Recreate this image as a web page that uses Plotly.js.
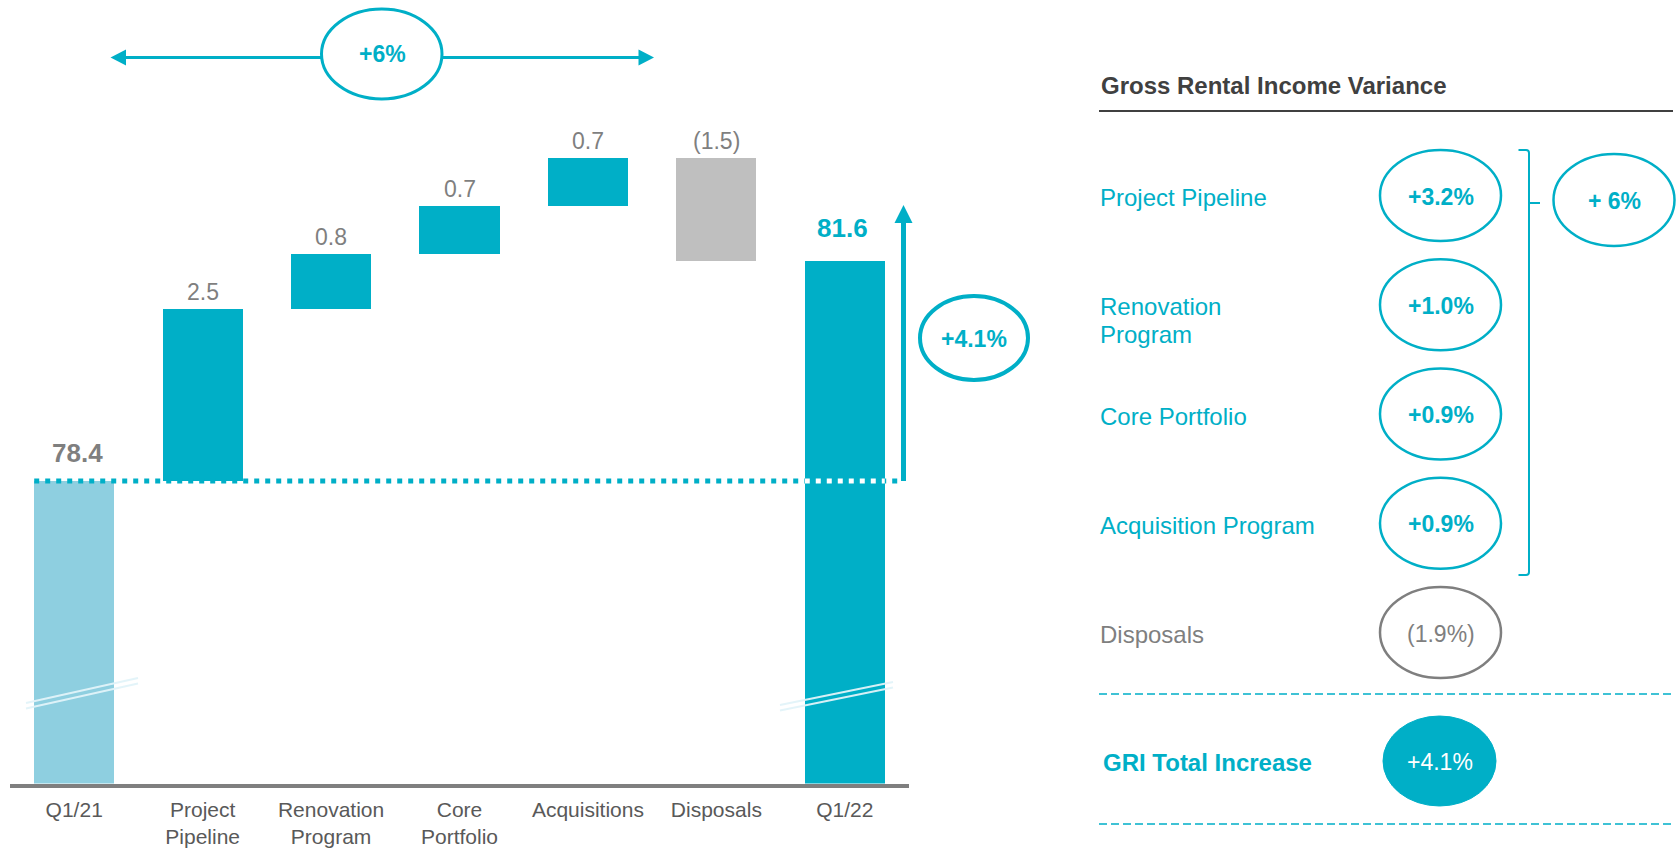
<!DOCTYPE html>
<html>
<head>
<meta charset="utf-8">
<script src="https://cdn.plot.ly/plotly-3.0.1.min.js"></script>
<style>html,body{margin:0;padding:0;background:#fff;}#chart{width:1679px;height:851px;}</style>
</head>
<body>
<div id="chart"></div>
<script>
// ---------- DATA ----------
const categories = ['Q1/21', 'Project<br>Pipeline', 'Renovation<br>Program', 'Core<br>Portfolio', 'Acquisitions', 'Disposals', 'Q1/22'];
const startValue = 78.4;
const changes = [2.5, 0.8, 0.7, 0.7, -1.5];
const endValue = 81.6;
const valueLabels = ['78.4', '2.5', '0.8', '0.7', '0.7', '(1.5)', '81.6'];
const topBadge = '+6%';
const arrowBadge = '+4.1%';
const panelTitle = 'Gross Rental Income Variance';
const panelLabels = ['Project Pipeline', 'Renovation<br>Program', 'Core Portfolio', 'Acquisition Program', 'Disposals'];
const panelValues = ['+3.2%', '+1.0%', '+0.9%', '+0.9%', '(1.9%)'];
const groupValue = '+ 6%';
const totalLabel = 'GRI Total Increase';
const totalValue = '+4.1%';

// ---------- STYLE ----------
const W = 1679, H = 851;
const TEAL = '#00AFC7', LIGHT = '#8ECFE0', GREY = '#BFBFBF', TXTGREY = '#7F7F7F', DARK = '#404040';
const FONT = 'Liberation Sans, Arial, Helvetica, sans-serif';
const yMin = 74.0;
const pxPerUnit = 68.75;
const plotBottomPx = 783.5;
const yMax = yMin + plotBottomPx / pxPerUnit;
const barW = 0.623;

// ---------- WATERFALL GEOMETRY (from data) ----------
const bases = [], heights = [], colors = [];
bases.push(yMin); heights.push(startValue - yMin); colors.push(LIGHT);
let run = startValue;
changes.forEach(c => {
  bases.push(Math.min(run, run + c));
  heights.push(Math.abs(c));
  colors.push(c >= 0 ? TEAL : GREY);
  run += c;
});
bases.push(yMin); heights.push(endValue - yMin); colors.push(TEAL);
const xs = categories.map((_, i) => i);

const bars = {
  type: 'bar', x: xs, y: heights, base: bases, width: barW,
  marker: {color: colors, line: {width: 0}}, hoverinfo: 'skip', showlegend: false
};
const overlay = {type: 'scatter', x: [], y: [], xaxis: 'x2', yaxis: 'y2', hoverinfo: 'skip', showlegend: false};

const annotations = [];
const shapes = [];

// value labels
xs.forEach(i => {
  const top = bases[i] + heights[i];
  const isEnd = (i === 0 || i === xs.length - 1);
  annotations.push({
    xref: 'x', yref: 'y', x: i, y: top, text: valueLabels[i], showarrow: false,
    xanchor: 'center', yanchor: 'middle',
    xshift: i === 0 ? 3 : (i === xs.length - 1 ? -2 : 0),
    yshift: i === 0 ? 28 : (i === xs.length - 1 ? 33 : 17),
    font: {family: FONT, size: isEnd ? 26 : 23, color: i === xs.length - 1 ? TEAL : TXTGREY, weight: isEnd ? 'bold' : 'normal'}
  });
});

// dotted baseline at start value
shapes.push({type: 'line', xref: 'x', yref: 'y', x0: -barW / 2, x1: 6.453, y0: startValue, y1: startValue,
  line: {color: TEAL, width: 5, dash: '5px,6px'}});
shapes.push({type: 'line', xref: 'x', yref: 'y', x0: 6 - barW / 2, x1: 6 + barW / 2, y0: startValue, y1: startValue,
  line: {color: '#ffffff', width: 5, dash: '5px,6px'}});

// axis break marks
function brk(xa, ya, xb, yb) {
  [0, 5.5].forEach(d => shapes.push({type: 'line', xref: 'x2', yref: 'y2', x0: xa, y0: ya + d, x1: xb, y1: yb + d,
    line: {color: 'rgba(225,243,249,0.95)', width: 2}}));
}
brk(26, 703, 138, 678);
brk(780, 705, 893, 682);

// vertical arrow
shapes.push({type: 'line', xref: 'x2', yref: 'y2', x0: 903.5, x1: 903.5, y0: 481, y1: 220, line: {color: TEAL, width: 5}});
shapes.push({type: 'path', xref: 'x2', yref: 'y2', path: 'M 894.5,223 L 912.5,223 L 903.5,205 Z', fillcolor: TEAL, line: {width: 0}});
// +4.1% ellipse
shapes.push({type: 'circle', xref: 'x2', yref: 'y2', x0: 920, x1: 1028, y0: 296, y1: 380, line: {color: TEAL, width: 4}, fillcolor: 'rgba(0,0,0,0)'});
annotations.push({xref: 'x2', yref: 'y2', x: 974, y: 339, text: arrowBadge, showarrow: false,
  font: {family: FONT, size: 23, color: TEAL, weight: 'bold'}});

// top double arrow with +6%
shapes.push({type: 'line', xref: 'x2', yref: 'y2', x0: 122, x1: 642, y0: 57.5, y1: 57.5, line: {color: TEAL, width: 3}});
shapes.push({type: 'path', xref: 'x2', yref: 'y2', path: 'M 110.5,57.5 L 126,49.5 L 126,65.5 Z', fillcolor: TEAL, line: {width: 0}});
shapes.push({type: 'path', xref: 'x2', yref: 'y2', path: 'M 654,57.5 L 638.5,49.5 L 638.5,65.5 Z', fillcolor: TEAL, line: {width: 0}});
shapes.push({type: 'circle', xref: 'x2', yref: 'y2', x0: 321.5, x1: 442, y0: 9, y1: 99, line: {color: TEAL, width: 3}, fillcolor: '#ffffff'});
annotations.push({xref: 'x2', yref: 'y2', x: 382, y: 53.5, text: topBadge, showarrow: false,
  font: {family: FONT, size: 23, color: TEAL, weight: 'bold'}});

// ---------- RIGHT PANEL ----------
const pLeft = 1099, pRight = 1673;
annotations.push({xref: 'x2', yref: 'y2', x: pLeft, y: 85, text: panelTitle, showarrow: false, xanchor: 'left', yanchor: 'middle',
  font: {family: FONT, size: 24, color: DARK, weight: 'bold'}});
shapes.push({type: 'line', xref: 'x2', yref: 'y2', x0: pLeft, x1: pRight, y0: 111, y1: 111, line: {color: DARK, width: 2}});

const rowY0 = 195.5, rowStep = 109.25, eCx = 1440.5, eRx = 60.5, eRy = 45.5, lineGap = 28;
panelLabels.forEach((lab, i) => {
  const cy = rowY0 + rowStep * i;
  const neg = panelValues[i].startsWith('(');
  const col = neg ? TXTGREY : TEAL;
  lab.split('<br>').forEach((ln, k) => {
    annotations.push({xref: 'x2', yref: 'y2', x: pLeft - 1, y: cy + 2 + k * lineGap, text: ln, showarrow: false,
      xanchor: 'left', yanchor: 'middle', font: {family: FONT, size: 24, color: col}});
  });
  shapes.push({type: 'circle', xref: 'x2', yref: 'y2', x0: eCx - eRx, x1: eCx + eRx, y0: cy - eRy, y1: cy + eRy,
    line: {color: col, width: 2.5}, fillcolor: 'rgba(0,0,0,0)'});
  annotations.push({xref: 'x2', yref: 'y2', x: eCx, y: cy + 1, text: panelValues[i], showarrow: false,
    font: {family: FONT, size: 23, color: col, weight: neg ? 'normal' : 'bold'}});
});

// bracket grouping the positive drivers
shapes.push({type: 'path', xref: 'x2', yref: 'y2',
  path: 'M 1518.5,150 L 1526,150 Q 1529,150 1529,153 L 1529,572 Q 1529,575 1526,575 L 1518.5,575',
  line: {color: TEAL, width: 2}, fillcolor: 'rgba(0,0,0,0)'});
shapes.push({type: 'line', xref: 'x2', yref: 'y2', x0: 1529, x1: 1540, y0: 203, y1: 203, line: {color: TEAL, width: 2}});
shapes.push({type: 'circle', xref: 'x2', yref: 'y2', x0: 1553.5, x1: 1674.5, y0: 154, y1: 246, line: {color: TEAL, width: 2.5}, fillcolor: 'rgba(0,0,0,0)'});
annotations.push({xref: 'x2', yref: 'y2', x: 1614, y: 201, text: groupValue, showarrow: false,
  font: {family: FONT, size: 23, color: TEAL, weight: 'bold'}});

// dashed separators and total row
[694, 824].forEach(y => shapes.push({type: 'line', xref: 'x2', yref: 'y2', x0: pLeft, x1: pRight, y0: y, y1: y,
  line: {color: TEAL, width: 1.5, dash: '8px,4px'}}));
annotations.push({xref: 'x2', yref: 'y2', x: 1101, y: 762, text: totalLabel, showarrow: false, xanchor: 'left', yanchor: 'middle',
  font: {family: FONT, size: 24, color: TEAL, weight: 'bold'}});
shapes.push({type: 'circle', xref: 'x2', yref: 'y2', x0: 1383, x1: 1496, y0: 716, y1: 806, line: {color: TEAL, width: 1}, fillcolor: TEAL});
annotations.push({xref: 'x2', yref: 'y2', x: 1439.5, y: 762, text: totalValue, showarrow: false,
  font: {family: FONT, size: 23, color: '#ffffff'}});

const layout = {
  width: W, height: H, autosize: false,
  margin: {l: 0, r: 0, t: 0, b: 0, pad: 0},
  paper_bgcolor: '#ffffff', plot_bgcolor: 'rgba(0,0,0,0)',
  font: {family: FONT},
  showlegend: false, hovermode: false,
  bargap: 0,
  xaxis: {domain: [10 / W, 909 / W], range: [-0.5, 6.5], tickmode: 'array', tickvals: xs, ticktext: categories,
    showline: true, linecolor: '#7F7F7F', linewidth: 4, ticks: '', showgrid: false, zeroline: false,
    ticklabelstandoff: 4,
    tickfont: {family: FONT, size: 21, color: '#595959'}, fixedrange: true},
  yaxis: {domain: [1 - plotBottomPx / H, 1], range: [yMin, yMax], visible: false, fixedrange: true},
  xaxis2: {domain: [0, 1], range: [0, W], anchor: 'y2', visible: false, fixedrange: true},
  yaxis2: {domain: [0, 1], range: [H, 0], anchor: 'x2', visible: false, fixedrange: true},
  shapes: shapes, annotations: annotations
};

Plotly.newPlot('chart', [bars, overlay], layout, {displayModeBar: false, staticPlot: true});
</script>
</body>
</html>
